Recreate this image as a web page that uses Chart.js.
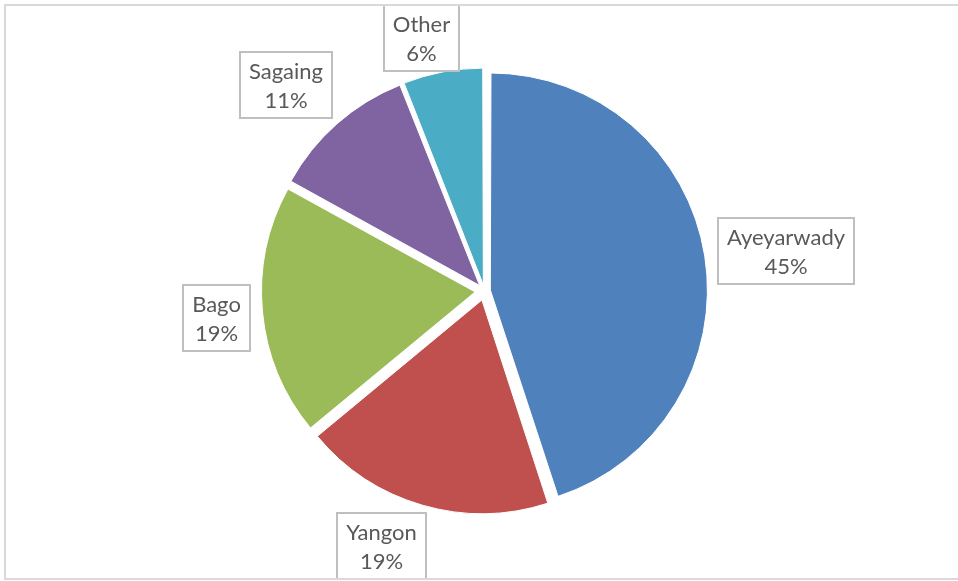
<!DOCTYPE html>
<html><head><meta charset="utf-8">
<script src="https://cdn.jsdelivr.net/npm/chart.js@4.4.0/dist/chart.umd.min.js"></script>
<style>html,body{margin:0;padding:0;background:#fff;overflow:hidden}#wrap{width:958px;height:581px;position:relative}</style>
</head><body><div id="wrap"><canvas id="c" width="958" height="581"></canvas></div>
<script>
// ---- data ----
const categories = ['Ayeyarwady', 'Yangon', 'Bago', 'Sagaing', 'Other'];
const shares = [45, 19, 19, 11, 6];
const percentLabels = ['45%', '19%', '19%', '11%', '6%'];

// ---- styles ----
const sliceColors = ['#4F81BD', '#C0504D', '#9BBB59', '#8064A2', '#4BACC6'];
const labelNudges = [[1, 2], [-25, -3], [0, 2], [-12, -4], [-12, 11]];
const EXPLODE = 10;      // uniform explosion in px
const RADIUS = 213;
const LABEL_GAP = 23;
const FONT = '22px Lato';
const PADX = 9;
const BOX_H = 66;
const LINE_GAP = 29;

const total = shares.reduce((a, b) => a + b, 0);

const labelPlugin = {
  id: 'boxLabels',
  afterDatasetsDraw(chart) {
    const ctx = chart.ctx;
    const meta = chart.getDatasetMeta(0);
    ctx.save();
    ctx.font = FONT;
    meta.data.forEach((arc, i) => {
      const p = arc.getProps(['x', 'y', 'startAngle', 'endAngle', 'outerRadius'], true);
      const mid = (p.startAngle + p.endAngle) / 2;
      const dx = Math.cos(mid), dy = Math.sin(mid);
      const R = p.outerRadius + LABEL_GAP;
      const w = Math.round(Math.max(ctx.measureText(categories[i]).width, ctx.measureText(percentLabels[i]).width) + 2 * PADX);
      const h = BOX_H;
      const cx = p.x + dx * R + dx * w / 2 + labelNudges[i][0];
      const cy = p.y + dy * R + dy * h / 2 + labelNudges[i][1];
      const left = Math.round(cx - w / 2), top = Math.round(cy - h / 2);
      ctx.fillStyle = '#FFFFFF';
      ctx.fillRect(left, top, w, h);
      ctx.strokeStyle = '#BFBFBF';
      ctx.lineWidth = 2;
      ctx.strokeRect(left, top, w, h);
      ctx.fillStyle = '#595959';
      ctx.textAlign = 'center';
      ctx.textBaseline = 'middle';
      const mx = left + w / 2, my = top + h / 2 + 1;
      ctx.fillText(categories[i], mx, my - LINE_GAP / 2);
      ctx.fillText(percentLabels[i], mx, my + LINE_GAP / 2);
    });
    ctx.restore();
  },
  afterDraw(chart) {
    const ctx = chart.ctx;
    ctx.save();
    ctx.strokeStyle = '#D9D9D9';
    ctx.lineWidth = 2;
    ctx.strokeRect(5, 5, 955, 574);
    ctx.restore();
  }
};

new Chart(document.getElementById('c'), {
  type: 'pie',
  data: {
    labels: categories,
    datasets: [{
      data: shares,
      backgroundColor: sliceColors,
      borderColor: '#FFFFFF',
      borderWidth: 1,
      radius: RADIUS,
      offset: (c) => {
        const circ = shares[c.dataIndex] / total * 2 * Math.PI;
        const fix = 1 - Math.sin(Math.min(Math.PI, circ));
        return 4 * EXPLODE / (1 + fix);
      }
    }]
  },
  options: {
    responsive: false,
    animation: false,
    events: [],
    layout: { padding: { left: 11, right: 0, top: 1, bottom: 0 } },
    plugins: { legend: { display: false }, tooltip: { enabled: false } }
  },
  plugins: [labelPlugin]
});
</script>
</body></html>
